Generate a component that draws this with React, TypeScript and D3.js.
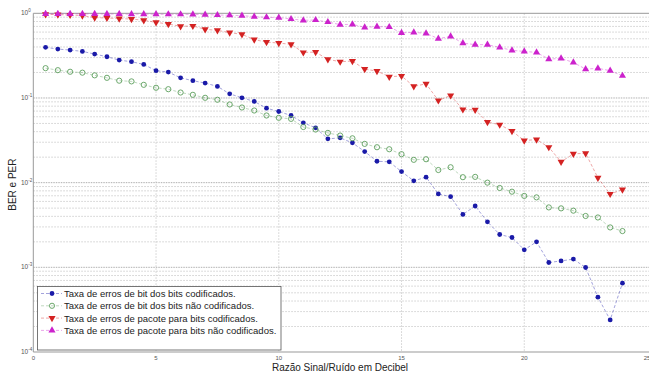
import React, { useRef, useEffect } from 'react';
import * as d3 from 'd3';

// SNR em dB (eixo x)
const snr = [
  0.5, 1, 1.5, 2, 2.5, 3, 3.5, 4, 4.5, 5, 5.5, 6, 6.5, 7, 7.5, 8,
  8.5, 9, 9.5, 10, 10.5, 11, 11.5, 12, 12.5, 13, 13.5, 14, 14.5, 15, 15.5, 16,
  16.5, 17, 17.5, 18, 18.5, 19, 19.5, 20, 20.5, 21, 21.5, 22, 22.5, 23, 23.5, 24,
];

const berCod = [
  0.396, 0.378, 0.368, 0.355, 0.33, 0.307, 0.28, 0.268, 0.249, 0.21, 0.202, 0.173, 0.16, 0.15, 0.137, 0.112,
  0.1005, 0.091, 0.0757, 0.0692, 0.0621, 0.0509, 0.0444, 0.0329, 0.0338, 0.0295, 0.0233, 0.0179, 0.0176, 0.0135, 0.0105, 0.0116,
  0.00735, 0.00683, 0.00421, 0.0053, 0.00345, 0.00244, 0.00225, 0.00161, 0.002, 0.00114, 0.00119, 0.00125, 0.000995, 0.000444, 0.000239, 0.00065,
];

const berNaoCod = [
  0.225, 0.213, 0.204, 0.199, 0.185, 0.173, 0.16, 0.157, 0.143, 0.132, 0.127, 0.116, 0.109, 0.1005, 0.0953, 0.0838,
  0.0772, 0.0711, 0.0621, 0.0583, 0.0567, 0.0454, 0.0424, 0.0387, 0.036, 0.0334, 0.0287, 0.0262, 0.0248, 0.0217, 0.0186, 0.0189,
  0.0141, 0.0152, 0.0116, 0.0117, 0.01, 0.00865, 0.00782, 0.00697, 0.0067, 0.0051, 0.00497, 0.00467, 0.00404, 0.00388, 0.00296, 0.00268,
];

const perCod = [
  0.973, 0.965, 0.955, 0.939, 0.889, 0.88, 0.866, 0.856, 0.826, 0.782, 0.747, 0.702, 0.708, 0.647, 0.629, 0.591,
  0.564, 0.489, 0.457, 0.445, 0.43, 0.345, 0.348, 0.286, 0.268, 0.273, 0.219, 0.208, 0.178, 0.182, 0.137, 0.147,
  0.0934, 0.107, 0.0731, 0.0725, 0.052, 0.0483, 0.0407, 0.0314, 0.0323, 0.0262, 0.0176, 0.0219, 0.0222, 0.0114, 0.00735, 0.00826,
];

const perNaoCod = [
  0.986, 0.986, 0.986, 0.984, 0.984, 0.981, 0.981, 0.978, 0.978, 0.976, 0.973, 0.973, 0.97, 0.965, 0.955, 0.947,
  0.939, 0.914, 0.897, 0.889, 0.856, 0.826, 0.833, 0.789, 0.735, 0.741, 0.683, 0.696, 0.689, 0.588, 0.596, 0.58,
  0.502, 0.534, 0.445, 0.426, 0.426, 0.396, 0.365, 0.355, 0.345, 0.288, 0.293, 0.263, 0.219, 0.224, 0.21, 0.183,
];

const legendLabels = [
  'Taxa de erros de bit dos bits codificados.',
  'Taxa de erros de bit dos bits não codificados.',
  'Taxa de erros de pacote para bits codificados.',
  'Taxa de erros de pacote para bits não codificados.',
];

const xTicks = [0, 5, 10, 15, 20, 25];
const yExponents = [0, -1, -2, -3, -4];

const series = [
  { values: berCod, color: '#1a1aa8', marker: 'dot' },
  { values: berNaoCod, color: '#5c9e5c', marker: 'circle' },
  { values: perCod, color: '#d42222', marker: 'down' },
  { values: perNaoCod, color: '#cc22cc', marker: 'up' },
];

const W = 649;
const H = 372;

function App() {
  const ref = useRef<SVGSVGElement>(null);

  useEffect(() => {
    const svg = d3.select(ref.current);
    svg.selectAll('*').remove();

    const x = d3.scaleLinear().domain([0, 25]).range([33.3, 647]);
    const y = d3.scaleLog().domain([1e-4, 1]).range([352, 13.3]);
    const font = 'Liberation Sans, Arial, sans-serif';

    const defs = svg.append('defs');
    defs.append('clipPath').attr('id', 'plotclip')
      .append('rect').attr('x', 33).attr('y', 10).attr('width', 620).attr('height', 346);

    const grid = svg.append('g');
    // minor + major horizontal grid
    const minor: number[] = [];
    for (let e = -4; e < 0; e++) {
      for (let m = 2; m <= 9; m++) minor.push(m * Math.pow(10, e));
    }
    grid.selectAll('.minor').data(minor).enter().append('line')
      .attr('x1', x(0)).attr('x2', W)
      .attr('y1', (d) => y(d)).attr('y2', (d) => y(d))
      .attr('stroke', '#c4c4c4').attr('stroke-width', 0.8)
      .attr('stroke-dasharray', '1.5 1.5');
    grid.selectAll('.major').data(yExponents.slice(1, 4)).enter().append('line')
      .attr('x1', x(0)).attr('x2', W)
      .attr('y1', (d) => y(Math.pow(10, d))).attr('y2', (d) => y(Math.pow(10, d)))
      .attr('stroke', '#a8a8a8').attr('stroke-width', 0.9)
      .attr('stroke-dasharray', '1.5 1');
    grid.selectAll('.vgrid').data(xTicks.slice(1, 5)).enter().append('line')
      .attr('x1', (d) => x(d)).attr('x2', (d) => x(d))
      .attr('y1', y(1)).attr('y2', y(1e-4))
      .attr('stroke', '#c4c4c4').attr('stroke-width', 0.8)
      .attr('stroke-dasharray', '1.5 1.5');

    // axes box
    svg.append('line').attr('x1', x(0)).attr('x2', W).attr('y1', y(1)).attr('y2', y(1))
      .attr('stroke', '#999').attr('stroke-width', 1);
    svg.append('line').attr('x1', x(0)).attr('x2', W).attr('y1', y(1e-4)).attr('y2', y(1e-4))
      .attr('stroke', '#999').attr('stroke-width', 1);
    svg.append('line').attr('x1', x(0)).attr('x2', x(0)).attr('y1', y(1)).attr('y2', y(1e-4))
      .attr('stroke', '#999').attr('stroke-width', 1);

    // x tick labels
    svg.selectAll('.xt').data(xTicks).enter().append('text')
      .attr('x', (d) => x(d)).attr('y', y(1e-4) + 7.5)
      .attr('text-anchor', 'middle')
      .attr('font-family', font).attr('font-size', 6).attr('fill', '#555')
      .text((d) => d);

    // y tick labels 10^n
    const yt = svg.selectAll('.yt').data(yExponents).enter().append('text')
      .attr('x', 21).attr('y', (d) => y(Math.pow(10, d)) + 2)
      .attr('text-anchor', 'start')
      .attr('font-family', font).attr('font-size', 6.5).attr('fill', '#555');
    yt.append('tspan').text('10');
    yt.append('tspan').attr('dy', -3).attr('font-size', 4.5).text((d) => d);

    // axis titles
    svg.append('text')
      .attr('x', 340).attr('y', 370.5)
      .attr('text-anchor', 'middle')
      .attr('font-family', font).attr('font-size', 10).attr('fill', '#222')
      .text('Razão Sinal/Ruído em Decibel');
    svg.append('text')
      .attr('transform', `translate(16, ${y(0.01) + 2}) rotate(-90)`)
      .attr('text-anchor', 'middle')
      .attr('font-family', font).attr('font-size', 10).attr('fill', '#222')
      .text('BER e PER');

    const plot = svg.append('g').attr('clip-path', 'url(#plotclip)');
    const line = d3.line<number>()
      .x((_, i) => x(snr[i]))
      .y((d) => y(d));

    const drawMarker = (g: any, kind: string, color: string, cx: number, cy: number) => {
      if (kind === 'dot') {
        g.append('circle').attr('cx', cx).attr('cy', cy).attr('r', 2.4).attr('fill', color);
      } else if (kind === 'circle') {
        g.append('circle').attr('cx', cx).attr('cy', cy).attr('r', 2.6)
          .attr('fill', 'none').attr('stroke', color).attr('stroke-width', 0.9);
      } else {
        const sym = d3.symbol().type(d3.symbolTriangle).size(22);
        g.append('path').attr('d', sym())
          .attr('transform', `translate(${cx},${cy}) rotate(${kind === 'down' ? 180 : 0})`)
          .attr('fill', color);
      }
    };

    series.forEach((s) => {
      plot.append('path')
        .datum(s.values)
        .attr('d', line)
        .attr('fill', 'none')
        .attr('stroke', s.color)
        .attr('stroke-opacity', 0.5)
        .attr('stroke-width', 0.8)
        .attr('stroke-dasharray', '3 2');
      const g = plot.append('g');
      s.values.forEach((v, i) => drawMarker(g, s.marker, s.color, x(snr[i]), y(v)));
    });

    // legend
    const lg = svg.append('g');
    lg.append('rect')
      .attr('x', 37.5).attr('y', 286.5).attr('width', 243.5).attr('height', 63.5)
      .attr('fill', '#fff').attr('stroke', '#555').attr('stroke-width', 0.8);
    legendLabels.forEach((label, i) => {
      const ly = 293.5 + i * 12.3;
      const s = series[i];
      lg.append('line').attr('x1', 41).attr('x2', 62).attr('y1', ly).attr('y2', ly)
        .attr('stroke', s.color).attr('stroke-opacity', 0.5).attr('stroke-width', 0.8)
        .attr('stroke-dasharray', '3 2');
      drawMarker(lg, s.marker, s.color, 52, ly);
      lg.append('text')
        .attr('x', 64).attr('y', ly + 3.4)
        .attr('font-family', font).attr('font-size', 9.5).attr('fill', '#222')
        .text(label);
    });
  }, []);

  return (
    <svg ref={ref} width={W} height={H}
      style={{ position: 'absolute', left: 0, top: 0, background: '#fff' }} />
  );
}

export default App;
